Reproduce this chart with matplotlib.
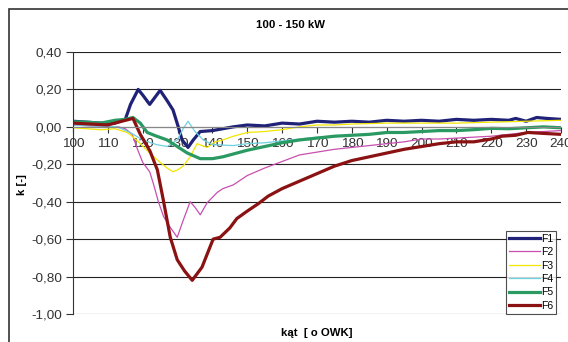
import matplotlib
matplotlib.use("Agg")
import matplotlib.pyplot as plt
from matplotlib.patches import Rectangle
from matplotlib.ticker import FuncFormatter

plt.rcParams['font.family'] = ['Liberation Sans', 'DejaVu Sans']

# F1
x1 = [100, 104, 108, 112, 115, 116.5, 118.7, 120, 122, 123.6, 125, 127, 128.7, 130.2, 131.3, 133, 134.5,
      136.5, 140, 143, 146, 150, 155, 160, 165, 170, 175, 180, 185, 190, 195, 200, 205, 210, 215, 220,
      225, 227, 230, 233, 236, 240]
y1 = [0.03, 0.025, 0.02, 0.02, 0.04, 0.12, 0.20, 0.17, 0.12, 0.16, 0.195, 0.14, 0.09, 0.0, -0.07, -0.11, -0.07,
      -0.025, -0.02, -0.01, 0.0, 0.01, 0.005, 0.02, 0.015, 0.03, 0.025, 0.03, 0.025, 0.035, 0.03, 0.035, 0.03,
      0.04, 0.035, 0.04, 0.035, 0.045, 0.03, 0.05, 0.045, 0.04]

# F2
x2 = [100, 105, 110, 113, 115, 117, 118.5, 120, 122, 123, 124.5, 126, 128, 129.9, 131.6, 133.6, 135, 136.5,
      138.5, 141.4, 143, 146, 150, 155, 160, 165, 170, 175, 180, 185, 190, 195, 200, 205, 210, 215, 220,
      225, 230, 235, 240]
y2 = [0.01, 0.005, 0.0, 0.0, -0.01, -0.04, -0.12, -0.19, -0.24, -0.30, -0.40, -0.48, -0.54, -0.59, -0.50,
      -0.40, -0.43, -0.47, -0.405, -0.35, -0.33, -0.31, -0.26, -0.22, -0.185, -0.15, -0.135, -0.12, -0.11,
      -0.10, -0.09, -0.08, -0.065, -0.065, -0.06, -0.055, -0.05, -0.04, -0.03, -0.025, -0.02]

# F3
x3 = [100, 104, 108, 112, 115.5, 117, 119.3, 122, 125, 127, 128.7, 130, 131.6, 133.6, 135.6, 137, 138.5,
      140.8, 143, 146, 150, 155, 160, 165, 170, 175, 180, 190, 200, 210, 220, 230, 240]
y3 = [-0.005, -0.01, -0.016, -0.01, -0.03, -0.05, -0.09, -0.14, -0.19, -0.22, -0.24, -0.23, -0.21, -0.16,
      -0.09, -0.10, -0.11, -0.08, -0.07, -0.05, -0.03, -0.025, -0.015, 0.0, 0.01, 0.01, 0.015, 0.02, 0.02,
      0.02, 0.025, 0.03, 0.035]

# F4
x4 = [100, 105, 110, 112.6, 116.4, 120, 124, 127, 129.9, 131.6, 133, 135, 137.4, 140, 146, 150, 155, 160,
      170, 180, 190, 200, 210, 220, 230, 240]
y4 = [0.01, 0.005, 0.003, 0.0, -0.03, -0.07, -0.095, -0.105, -0.07, -0.01, 0.03, -0.025, -0.07, -0.095,
      -0.10, -0.09, -0.085, -0.075, -0.055, -0.045, -0.035, -0.025, -0.02, -0.01, -0.005, 0.0]

# F5
x5 = [100, 104, 108, 112, 115, 117.2, 119.3, 121.3, 124, 127, 129.9, 132.8, 136.5, 140, 143, 146, 150, 155,
      160, 165, 170, 175, 180, 185, 190, 195, 200, 205, 210, 215, 220, 225, 230, 235, 240]
y5 = [0.027, 0.025, 0.02, 0.035, 0.04, 0.05, 0.02, -0.03, -0.05, -0.07, -0.105, -0.14, -0.17, -0.17, -0.16,
      -0.145, -0.125, -0.105, -0.085, -0.07, -0.06, -0.05, -0.045, -0.04, -0.03, -0.03, -0.025, -0.02,
      -0.02, -0.015, -0.008, -0.01, -0.005, 0.0, -0.005]

# F6
x6 = [100, 105, 110, 114, 117.2, 119.3, 122.1, 124.2, 125.9, 127.9, 129.9, 132, 134.2, 137, 140.2, 142.2,
      145, 147, 150, 153.2, 156, 160, 165, 170, 175, 180, 185, 190, 195, 200, 205, 210, 215, 220, 223,
      227, 230.5, 235, 240]
y6 = [0.02, 0.015, 0.01, 0.03, 0.045, -0.04, -0.13, -0.23, -0.39, -0.59, -0.71, -0.77, -0.82, -0.75, -0.60,
      -0.59, -0.54, -0.49, -0.45, -0.41, -0.37, -0.33, -0.29, -0.25, -0.21, -0.18, -0.16, -0.14, -0.12,
      -0.105, -0.09, -0.08, -0.08, -0.065, -0.05, -0.045, -0.03, -0.035, -0.04]

series = [
    ("F1", x1, y1, "#1f2277", 2.3),
    ("F2", x2, y2, "#c84fb0", 0.9),
    ("F3", x3, y3, "#f2e600", 0.9),
    ("F4", x4, y4, "#6fd0e0", 0.9),
    ("F5", x5, y5, "#2a9a62", 2.3),
    ("F6", x6, y6, "#8a1212", 2.3),
]

fig = plt.figure(figsize=(5.68, 3.42), dpi=100)
ax = fig.add_axes([73/568, 1 - 314/342, 488/568, 262/342])

# outer chart frame
fig.patches.append(Rectangle((9/568, -0.5), 2.0, 1.5 - 9/342, transform=fig.transFigure,
                             fill=False, edgecolor="#333333", linewidth=1.2))

for name, xs, ys, c, lw in series:
    ax.plot(xs, ys, color=c, linewidth=lw, label=name)

ax.set_xlim(100, 240)
ax.set_ylim(-1.0, 0.4)
ax.set_xticks(range(100, 241, 10))
ax.set_yticks([0.4, 0.2, 0.0, -0.2, -0.4, -0.6, -0.8, -1.0])
ax.yaxis.set_major_formatter(FuncFormatter(lambda v, p: f"{v:.2f}".replace(".", ",").replace("-0,00", "0,00")))
ax.grid(axis="y", color="#222222", linewidth=0.8)
ax.set_axisbelow(True)

ax.spines["right"].set_visible(False)
ax.spines["top"].set_visible(False)
ax.spines["bottom"].set_position(("data", 0))
ax.spines["bottom"].set_color("#888888")
ax.spines["left"].set_color("#333333")
ax.tick_params(axis="x", direction="out", length=4, pad=4, labelsize=9.7, colors="#333333")
ax.tick_params(axis="y", direction="out", length=5, pad=3, labelsize=9.7, colors="#333333")

fig.text(290/568, 1 - 25/342, "100 - 150 kW", ha="center", va="center", fontsize=8.2, fontweight="bold")
fig.text(22/568, 1 - 185/342, "k [-]", ha="center", va="center", rotation=90, fontsize=8.2, fontweight="bold")
fig.text(317/568, 1 - 333/342, "kąt  [ o OWK]", ha="center", va="center", fontsize=8.2, fontweight="bold")

leg = ax.legend(loc="lower right", bbox_to_anchor=(0.99, 0.0), fontsize=7.5, frameon=True, fancybox=False,
                handlelength=2.9, handletextpad=0.1, labelspacing=0.33, borderpad=0.3, borderaxespad=0.0)
leg.get_frame().set_edgecolor("#222222")
leg.get_frame().set_linewidth(0.8)

fig.savefig("out.png", dpi=100)
